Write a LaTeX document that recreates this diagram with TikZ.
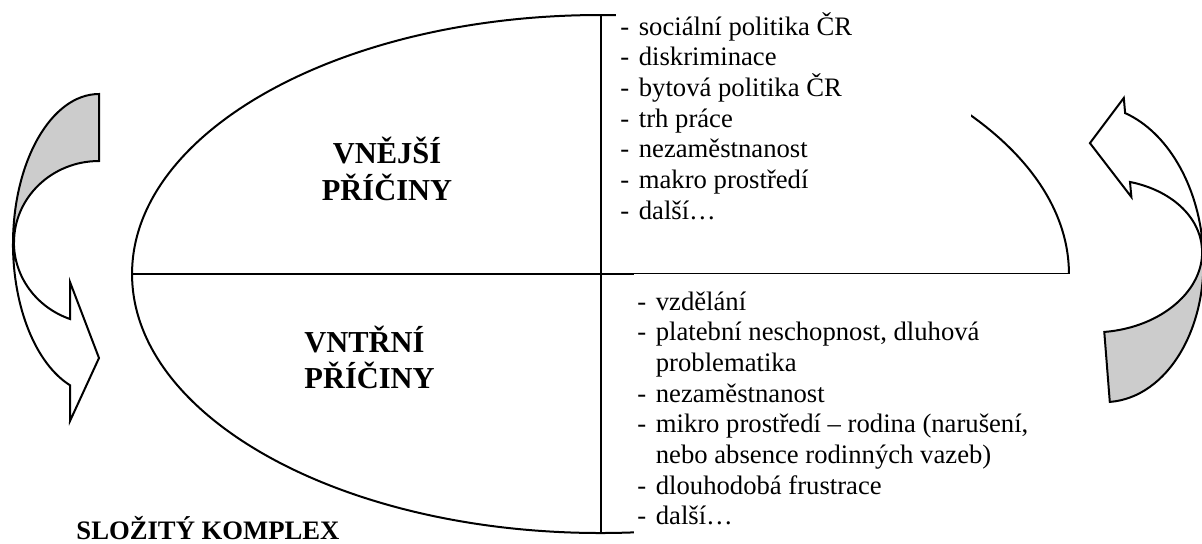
\documentclass[tikz,border=0pt]{standalone}
\usepackage{fontspec}
\setmainfont{Liberation Serif}
\usetikzlibrary{shapes.geometric}
\definecolor{backgray}{RGB}{204,204,204}
\tikzset{
  outline/.style={draw,line width=0.9pt},
  back/.style={draw,line width=0.9pt,fill=backgray},
  front/.style={draw,line width=0.9pt,fill=white},
  cause/.style={inner sep=0pt,anchor=base west,font=\fontsize{12}{14}\selectfont},
  heading/.style={inner sep=0pt,font=\fontsize{13.7}{16}\selectfont\bfseries}
}

\begin{document}
\begin{tikzpicture}[x=0.45pt,y=-0.45pt]
\useasboundingbox (0,0) rectangle (1202,543);

\node [outline,ellipse,inner sep=0pt,outer sep=0pt,minimum width=421.6pt,minimum height=233.1pt] (oval) at(600.5,274){};
\draw[outline](oval.west) -- (oval.east);
\draw[outline](oval.north) -- (oval.south);

% text boxes
\fill[white] (616,0) rectangle (971,272.9);
\fill[white] (634,274.2) rectangle (1076,543);

\node [heading,anchor=base] (ext1) at(387,163){VNĚJŠÍ};
\node [heading,anchor=base] (ext2) at(387,200){PŘÍČINY};
\node [heading,anchor=base west] (int1) at(304,352){VNTŘNÍ};
\node [heading,anchor=base west] (int2) at(304,388){PŘÍČINY};

\foreach \t [count=\i from 0] in {sociální politika ČR, diskriminace, bytová politika ČR, trh práce, nezaměstnanost, makro prostředí, další…}
  \node [cause] (out\i) at(620,35+30.7*\i){\makebox[8.3pt][l]{-}\t};

\foreach \d/\t [count=\i from 0] in {-/vzdělání, -/{platební neschopnost, dluhová}, {}/problematika, -/nezaměstnanost, -/{mikro prostředí – rodina (narušení,}, {}/nebo absence rodinných vazeb), -/dlouhodobá frustrace, -/další…}
  \node [cause] (in\i) at(637,310+30.7*\i){\makebox[8.3pt][l]{\d}\t};

\node [cause,font=\fontsize{12}{14}\selectfont\bfseries] (komplex) at(76,539){SLOŽITÝ KOMPLEX};

% left curved arrow
\draw[back] (99,94) arc[start angle=270,end angle=180,x radius=86,y radius=150]
  -- (14,242.4) arc[start angle=180,end angle=270,x radius=85,y radius=81.4] -- cycle;
\draw[front] (13,244) arc[start angle=180,end angle=109.7,x radius=86,y radius=150]
  -- (70,421) -- (99,358) -- (70,282) -- (70,319)
  arc[start angle=109.9,end angle=180,x radius=85,y radius=81.4] -- cycle;

% right curved arrow
\begin{scope}[rotate around={4.5:(1150,250)}]
\draw[back] (1098,398.3) arc[start angle=90,end angle=0,x radius=105,y radius=148.4]
  -- (1202,251.8) arc[start angle=0,end angle=90,x radius=104,y radius=76.3] -- cycle;
\draw[front] (1203,249.9) arc[start angle=0,end angle=-68.8,x radius=105,y radius=148.4]
  -- (1135.8,96.4) -- (1098.5,138.7) -- (1135.6,195.7) -- (1135.4,180.6)
  arc[start angle=-68.9,end angle=0,x radius=104,y radius=76.3] -- cycle;
\end{scope}
\end{tikzpicture}
\end{document}
